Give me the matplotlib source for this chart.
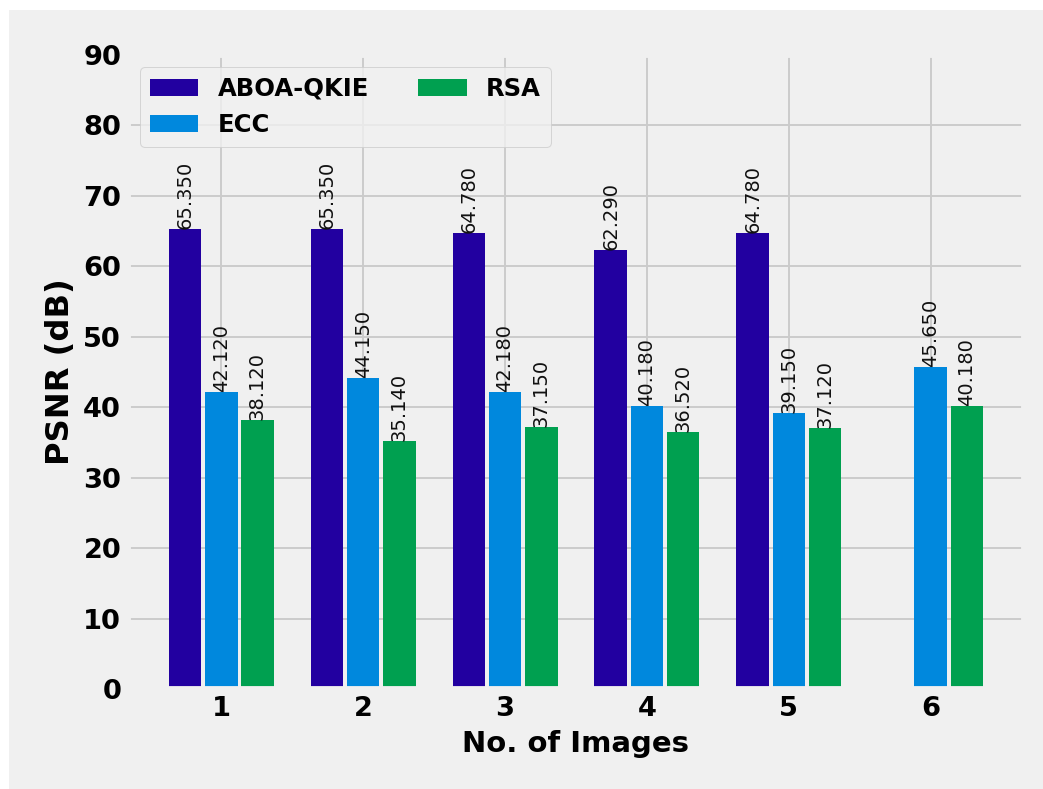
import numpy as np
import matplotlib
matplotlib.use('Agg')
import matplotlib.pyplot as plt
from matplotlib.patches import Rectangle

# Dane
images = [1, 2, 3, 4, 5, 6]
aboa_qkie = [65.35, 65.35, 64.78, 62.29, 64.78, np.nan]
ecc = [42.12, 44.15, 42.18, 40.18, 39.15, 45.65]
rsa = [38.12, 35.14, 37.15, 36.52, 37.12, 40.18]

series = [('ABOA-QKIE', aboa_qkie, '#2200A0'),
          ('ECC', ecc, '#0088DD'),
          ('RSA', rsa, '#00A050')]

plt.style.use('fivethirtyeight')

fig = plt.figure(figsize=(1043 / 140, 789 / 140), dpi=140)
fig.patch.set_facecolor('#f0f0f0')
fig.patch.set_linewidth(0)
# biały margines u góry i po lewej
fig.add_artist(Rectangle((0, 1 - 10 / 789), 1, 10 / 789,
                         transform=fig.transFigure, facecolor='white',
                         edgecolor='none', linewidth=0, zorder=-10))
fig.add_artist(Rectangle((0, 0), 9 / 1043, 1,
                         transform=fig.transFigure, facecolor='white',
                         edgecolor='none', linewidth=0, zorder=-10))

ax = fig.add_axes([0.1227, 0.1267, 0.9818 - 0.1227, 0.9303 - 0.1267])

x = np.arange(len(images)) + 1
width = 0.23
step = 0.255

for i, (name, vals, color) in enumerate(series):
    pos = x + (i - 1) * step
    ax.bar(pos, vals, width, color=color, label=name)
    for p, v in zip(pos, vals):
        if np.isnan(v):
            continue
        ax.text(p, v, f'{v:.3f}', rotation=90, ha='center', va='bottom',
                fontsize=10, color='#111111')

ax.set_xticks(x)
ax.set_xticklabels([str(i) for i in images])
ax.set_ylim(0, 90)
ax.set_yticks(np.arange(0, 91, 10))

for lbl in ax.get_xticklabels() + ax.get_yticklabels():
    lbl.set_fontweight('bold')
    lbl.set_fontsize(14)

ax.set_xlabel('No. of Images', fontsize=15, fontweight='bold')
ax.set_ylabel('PSNR (dB)', fontsize=16.5, fontweight='bold')

ax.legend(loc='upper left', ncol=2, prop={'weight': 'bold', 'size': 12.5})

plt.savefig('out.png', dpi=140, facecolor='#f0f0f0', edgecolor='none')
